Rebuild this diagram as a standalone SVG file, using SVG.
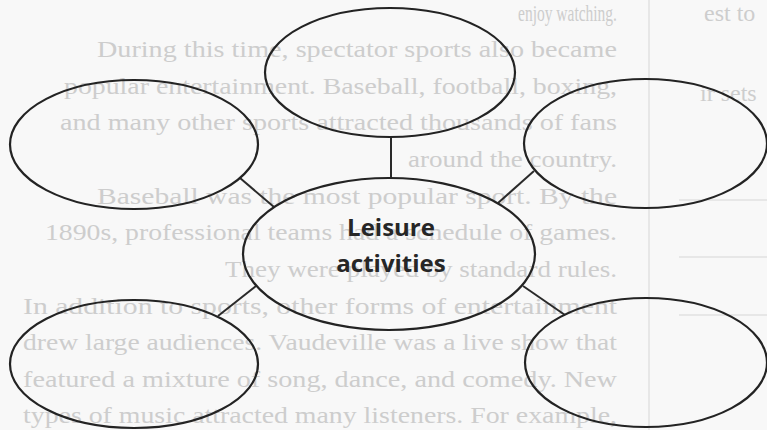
<svg xmlns="http://www.w3.org/2000/svg" width="767" height="430" viewBox="0 0 767 430">
  <style>
    .bgt { font-family: "Liberation Serif", "Times New Roman", serif; font-size: 24px; fill: #cdcdcd; }
    .rule { stroke: #e2e2e2; stroke-width: 1.5; fill: none; }
    .node { fill: none; stroke: #232323; stroke-width: 2.2; }
    .conn { stroke: #2a2a2a; stroke-width: 2; fill: none; }
    .label { font-family: "Open Sans", "Noto Sans", "Liberation Sans", sans-serif; font-size: 24px; font-weight: 700; fill: #262626; text-anchor: middle; }
  </style>
  <rect x="0" y="0" width="767" height="430" fill="#f8f8f8"/>
  <g id="background-page">
    <line class="rule" x1="649" y1="0" x2="649" y2="430"/>
    <line class="rule" x1="679" y1="200" x2="767" y2="200"/>
    <line class="rule" x1="679" y1="257" x2="767" y2="257"/>
    <line class="rule" x1="679" y1="315" x2="767" y2="315"/>
    <text class="bgt" x="704" y="21">est to</text>
    <text class="bgt" x="700" y="101">ir sets</text>
    <text class="bgt" x="518" y="21" textLength="99" lengthAdjust="spacingAndGlyphs">enjoy watching.</text>
    <text class="bgt" x="97" y="57" textLength="520" lengthAdjust="spacingAndGlyphs">During this time, spectator sports also became</text>
    <text class="bgt" x="64" y="94" textLength="553" lengthAdjust="spacingAndGlyphs">popular entertainment. Baseball, football, boxing,</text>
    <text class="bgt" x="60" y="130" textLength="557" lengthAdjust="spacingAndGlyphs">and many other sports attracted thousands of fans</text>
    <text class="bgt" x="408" y="167" textLength="209" lengthAdjust="spacingAndGlyphs">around the country.</text>
    <text class="bgt" x="97" y="204" textLength="520" lengthAdjust="spacingAndGlyphs">Baseball was the most popular sport. By the</text>
    <text class="bgt" x="45" y="240" textLength="572" lengthAdjust="spacingAndGlyphs">1890s, professional teams had a schedule of games.</text>
    <text class="bgt" x="225" y="277" textLength="392" lengthAdjust="spacingAndGlyphs">They were played by standard rules.</text>
    <text class="bgt" x="23" y="314" textLength="594" lengthAdjust="spacingAndGlyphs">In addition to sports, other forms of entertainment</text>
    <text class="bgt" x="23" y="350" textLength="594" lengthAdjust="spacingAndGlyphs">drew large audiences. Vaudeville was a live show that</text>
    <text class="bgt" x="23" y="387" textLength="594" lengthAdjust="spacingAndGlyphs">featured a mixture of song, dance, and comedy. New</text>
    <text class="bgt" x="23" y="423" textLength="594" lengthAdjust="spacingAndGlyphs">types of music attracted many listeners. For example,</text>
  </g>
  <g id="connectors">
    <line class="conn" x1="391" y1="137" x2="391" y2="178"/>
    <line class="conn" x1="240" y1="178" x2="274" y2="207"/>
    <line class="conn" x1="498" y1="203" x2="534" y2="171"/>
    <line class="conn" x1="218" y1="316" x2="256" y2="286"/>
    <line class="conn" x1="523" y1="286" x2="565" y2="315"/>
  </g>
  <g id="node-top">
    <ellipse class="node" cx="390" cy="72.5" rx="125" ry="64.5"/>
  </g>
  <g id="node-upper-left">
    <ellipse class="node" cx="134" cy="144.5" rx="124" ry="64.5"/>
  </g>
  <g id="node-upper-right">
    <ellipse class="node" cx="645.5" cy="143.5" rx="121.5" ry="64.5"/>
  </g>
  <g id="node-lower-left">
    <ellipse class="node" cx="134" cy="364" rx="124" ry="64"/>
  </g>
  <g id="node-lower-right">
    <ellipse class="node" cx="646" cy="362.5" rx="121" ry="64.5"/>
  </g>
  <g id="node-center">
    <ellipse class="node" cx="389" cy="254" rx="146" ry="76"/>
    <text class="label" x="391" y="236">Leisure</text>
    <text class="label" x="391" y="272">activities</text>
  </g>
</svg>
